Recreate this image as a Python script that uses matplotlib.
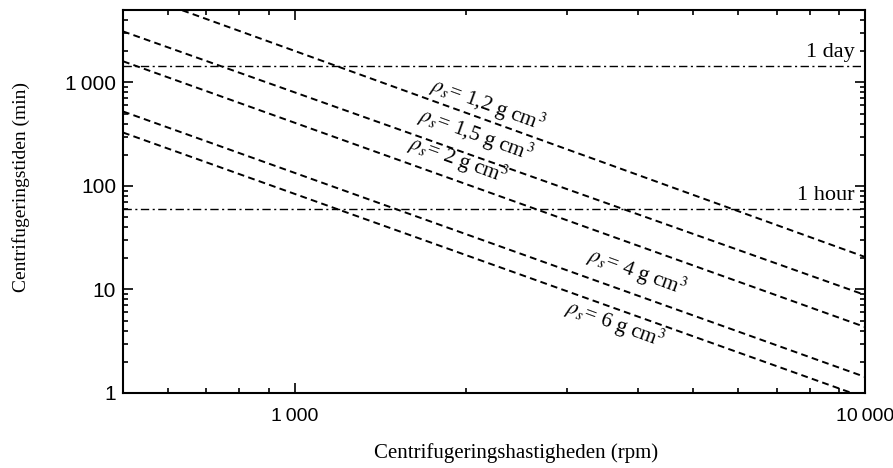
import matplotlib
matplotlib.use("Agg")
import matplotlib.pyplot as plt
from matplotlib.ticker import LogLocator, FixedLocator, NullFormatter, FixedFormatter

plt.rcParams['mathtext.fontset'] = 'stix'

# rpm at the two ends of each curve, settling time (min)
rpm = [500, 10000]
t_12 = [8000, 20.6]
t_15 = [3110, 8.85]
t_2 = [1600, 4.34]
t_4 = [524, 1.43]
t_6 = [328, 0.9]
series = [t_12, t_15, t_2, t_4, t_6]

labels = [r'$\rho_s$= 1,2 g cm$^3$', r'$\rho_s$= 1,5 g cm$^3$', r'$\rho_s$= 2 g cm$^3$',
          r'$\rho_s$= 4 g cm$^3$', r'$\rho_s$= 6 g cm$^3$']
label_x = [2178, 2075, 1937, 3990, 3647]
label_y = [612, 315, 180, 14.9, 4.6]

day_min = 1440
hour_min = 60

xticks = [1000, 10000]
xticklabels = ['1\u2009000', '10\u2009000']
yticks = [1, 10, 100, 1000]
yticklabels = ['1', '10', '100', '1\u2009000']

fig = plt.figure(figsize=(8.93, 4.68), dpi=100)
ax = fig.add_axes([0.1377, 0.1603, 0.9686 - 0.1377, 0.9786 - 0.1603])
ax.set_xscale('log')
ax.set_yscale('log')
ax.set_xlim(500, 10000)
ax.set_ylim(1, 5000)

for t in series:
    ax.plot(rpm, t, color='black', lw=1.4, linestyle=(0, (3.5, 2.2)))

ax.axhline(day_min, color='black', lw=1.0, linestyle=(0, (6, 2.5, 1.5, 2.5)))
ax.axhline(hour_min, color='black', lw=1.0, linestyle=(0, (6, 2.5, 1.5, 2.5)))
ax.text(9600, day_min * 1.1, '1 day', ha='right', va='bottom',
        family='Liberation Serif', fontsize=16)
ax.text(9600, hour_min * 1.1, '1 hour', ha='right', va='bottom',
        family='Liberation Serif', fontsize=16)

for lab, lx, ly in zip(labels, label_x, label_y):
    ax.text(lx, ly, lab, rotation=-20, ha='center', va='center',
            family='Liberation Serif', fontsize=15.5, rotation_mode='anchor')

ax.xaxis.set_major_locator(FixedLocator(xticks))
ax.xaxis.set_major_formatter(FixedFormatter(xticklabels))
ax.xaxis.set_minor_locator(LogLocator(base=10, subs=range(2, 10)))
ax.xaxis.set_minor_formatter(NullFormatter())
ax.yaxis.set_major_locator(FixedLocator(yticks))
ax.yaxis.set_major_formatter(FixedFormatter(yticklabels))
ax.yaxis.set_minor_locator(LogLocator(base=10, subs=range(2, 10)))
ax.yaxis.set_minor_formatter(NullFormatter())

ax.tick_params(which='both', direction='in', top=True, right=True, width=1.2)
ax.tick_params(which='major', length=7)
ax.tick_params(which='minor', length=3.5)
ax.tick_params(axis='x', which='major', pad=11, labelsize=14)
ax.tick_params(axis='y', which='major', pad=5, labelsize=15)
for lab in ax.get_xticklabels() + ax.get_yticklabels():
    lab.set_family('Liberation Sans')
for sp in ax.spines.values():
    sp.set_linewidth(1.5)

ax.set_xlabel('Centrifugeringshastigheden (rpm)', family='Liberation Serif',
              fontsize=15)
ax.set_ylabel('Centrifugeringstiden (min)', family='Liberation Serif',
              fontsize=14)
ax.xaxis.set_label_coords(0.53, -0.13)
ax.yaxis.set_label_coords(-0.125, 0.538)

fig.savefig('out.png', dpi=100)
